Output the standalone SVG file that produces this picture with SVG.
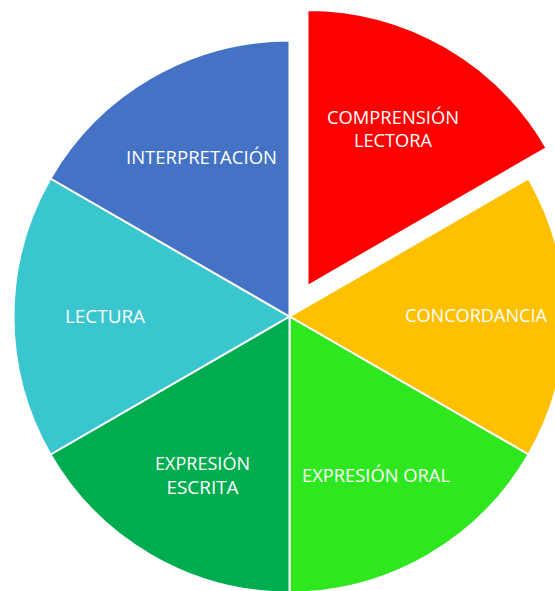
<svg xmlns="http://www.w3.org/2000/svg" width="555" height="591" viewBox="0 0 555 591">
<style>
.s{stroke:#FFFFFF;stroke-width:2;stroke-linejoin:round}
.t{font-family:"Open Sans","Liberation Sans",sans-serif;font-size:18px;fill:#FFFFFF;text-anchor:middle}
</style>
<rect width="555" height="591" fill="#FFFFFF"/>
<g id="slice-comprension">
<path class="s" fill="#FF0000" d="M307.5,286 L307.5,10 A276,276 0 0 1 546.5,148 Z"/>
<text class="t" x="393" y="124" textLength="132" lengthAdjust="spacingAndGlyphs">COMPRENSIÓN</text>
<text class="t" x="393" y="147" textLength="78" lengthAdjust="spacingAndGlyphs">LECTORA</text>
</g>
<g id="slice-concordancia">
<path class="s" fill="#FFC000" d="M289.5,316.5 L528.5,178.5 A276,276 0 0 1 528.5,454.5 Z"/>
<text class="t" x="476" y="322" textLength="142" lengthAdjust="spacingAndGlyphs">CONCORDANCIA</text>
</g>
<g id="slice-oral">
<path class="s" fill="#2EE71F" d="M289.5,316.5 L528.5,454.5 A276,276 0 0 1 289.5,592.5 Z"/>
<text class="t" x="376" y="482" textLength="148" lengthAdjust="spacingAndGlyphs">EXPRESIÓN ORAL</text>
</g>
<g id="slice-escrita">
<path class="s" fill="#00AC50" d="M289.5,316.5 L289.5,592.5 A276,276 0 0 1 50.5,454.5 Z"/>
<text class="t" x="202.5" y="470" textLength="95" lengthAdjust="spacingAndGlyphs">EXPRESIÓN</text>
<text class="t" x="202.5" y="493.5" textLength="72" lengthAdjust="spacingAndGlyphs">ESCRITA</text>
</g>
<g id="slice-lectura">
<path class="s" fill="#3AC6CF" d="M289.5,316.5 L50.5,454.5 A276,276 0 0 1 50.5,178.5 Z"/>
<text class="t" x="105" y="322.5" textLength="80" lengthAdjust="spacingAndGlyphs">LECTURA</text>
</g>
<g id="slice-interpretacion">
<path class="s" fill="#4472C4" d="M289.5,316.5 L50.5,178.5 A276,276 0 0 1 289.5,40.5 Z"/>
<text class="t" x="201.5" y="163.5" textLength="151" lengthAdjust="spacingAndGlyphs">INTERPRETACIÓN</text>
</g>
<g id="connectors"></g>
</svg>
